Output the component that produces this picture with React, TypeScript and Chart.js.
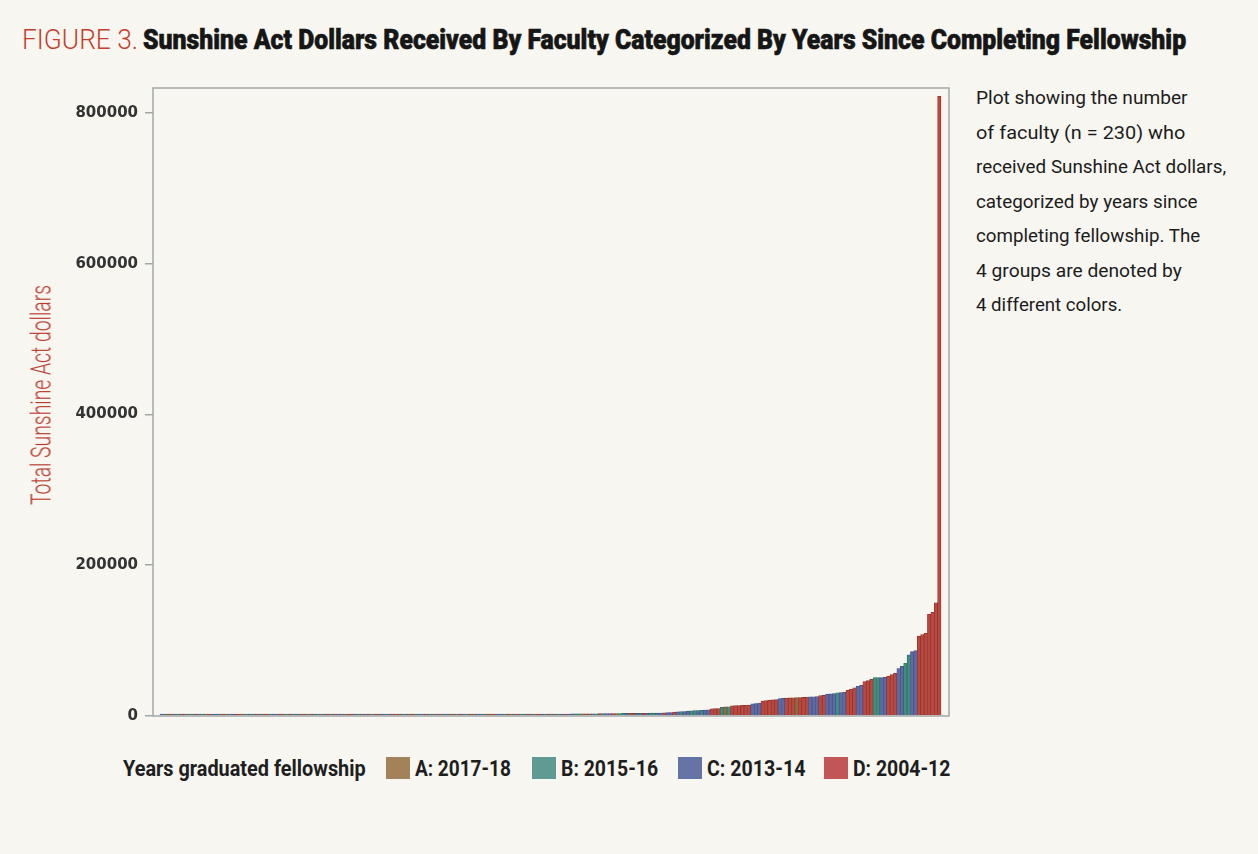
import React, { useEffect, useLayoutEffect, useRef, useState } from "react";
import { Chart, registerables } from "chart.js";
Chart.register(...registerables);

const BG = "#f7f6f0";

// Total Sunshine Act dollars per faculty member (n = 230), sorted ascending
const dollars: number[] = [
  15, 25, 40, 50, 60, 75, 90, 100, 110, 125,
  140, 150, 160, 175, 190, 200, 210, 225, 240, 250,
  265, 280, 300, 310, 325, 340, 350, 365, 380, 400,
  410, 425, 440, 450, 470, 490, 500, 515, 530, 550,
  560, 575, 590, 600, 620, 640, 650, 670, 690, 700,
  720, 740, 750, 770, 790, 800, 820, 840, 860, 880,
  900, 920, 940, 960, 980, 1000, 1020, 1040, 1060, 1080,
  1100, 1120, 1150, 1170, 1200, 1220, 1250, 1270, 1300, 1320,
  1350, 1380, 1400, 1430, 1460, 1490, 1500, 1530, 1560, 1600,
  1620, 1650, 1680, 1700, 1740, 1770, 1800, 1830, 1860, 1900,
  1930, 1960, 2000, 2030, 2070, 2100, 2140, 2180, 2200, 2250,
  2290, 2330, 2370, 2400, 2450, 2490, 2530, 2570, 2600, 2650,
  2700, 2740, 2780, 2820, 2860, 2900, 2950, 3000, 3040, 3080,
  3120, 3160, 3200, 3250, 3300, 3340, 3380, 3420, 3470, 3500,
  3550, 3600, 3650, 3700, 3750, 3800, 3900,
  4000, 4200, 4400, 4500,
  5200, 5400, 5700, 6000,
  6600, 6900, 7100, 7300, 7600, 7900, 8200,
  9400, 9700, 10000,
  11500, 12000, 12300,
  13500, 13700, 13900, 14100, 14300, 14500,
  16000, 16600, 17000,
  19700, 20300,
  21000, 21400, 21700,
  23000, 23300,
  23700, 24000, 24200,
  24400,
  24500, 24700, 24900,
  25300, 25500, 25700,
  27000, 27500,
  28800, 29300, 29600,
  30800,
  31000, 31300,
  34000, 35500, 37500,
  39200, 40600,
  45500, 47000, 48700,
  50800, 51000,
  51000, 51300,
  53000, 55000, 56600,
  63000, 66000,
  70000, 81000,
  85300, 86700,
  106000, 108000, 109700,
  135000, 137500,
  150000,
  822000,
];

// Fellowship group of each faculty member, same order as dollars
const groupCodes: string[] = (
  "CBDACBDCAB" + "DCBADCCBDA" + "BCDDABCBDC" + "ADBCCDABDB" + "CADBDCBACD" +
  "BDCABDDCBA" + "CDBDACBCDA" + "DBCADBCCDB" + "ACDBCADBDC" + "BDACCBDADC" +
  "CBDACDBBDC" + "ADCBDCABCD" + "CCBBADACBD" + "BCCDABBCAD" + "CBDCBBC" +
  "CDCC" + "DCBC" + "CBBCBCC" + "DDD" + "BAB" + "DDDDDD" + "CCC" + "DD" + "DDD" +
  "CC" + "DDD" + "A" + "DDD" + "CCC" + "DD" + "CCC" + "B" + "CC" + "DDD" + "CC" +
  "DDD" + "BB" + "CC" + "DDD" + "CC" + "BB" + "CC" + "DDD" + "DD" + "D" + "D"
).split("");

const groupKeys = ["A", "B", "C", "D"];
const groupLabels = ["A: 2017-18", "B: 2015-16", "C: 2013-14", "D: 2004-12"];
const legendColors = ["#a3825a", "#5f9b92", "#6673a5", "#c25656"];
const barColors = ["#8e6d43", "#3f8e7e", "#5e6aa3", "#b9483f"];
const barEdges = ["#6a4e2c", "#2d6e60", "#434f86", "#8f302b"];

const yTicks = [0, 200000, 400000, 600000, 800000];
const yMax = 833000;

const titleLead = "FIGURE 3.";
const titleMain = "Sunshine Act Dollars Received By Faculty Categorized By Years Since Completing Fellowship";
const yTitle = "Total Sunshine Act dollars";
const legendTitle = "Years graduated fellowship";
const sideLines = [
  "Plot showing the number",
  "of faculty (n = 230) who",
  "received Sunshine Act dollars,",
  "categorized by years since",
  "completing fellowship. The",
  "4 groups are denoted by",
  "4 different colors.",
];
const sideWidths = [211, 209, 250, 222, 224, 206, 146];

type FitProps = {
  text: string;
  left: number;
  top: number;
  width: number;
  size: number;
  weight?: number;
  family?: string;
  color?: string;
  rotate?: boolean;
  stroke?: string;
};

function FitText({ text, left, top, width, size, weight = 400, family = "Roboto", color = "#1c1c1c", rotate = false, stroke }: FitProps) {
  const ref = useRef<HTMLSpanElement>(null);
  const [sx, setSx] = useState(1);
  useLayoutEffect(() => {
    const measure = () => {
      const el = ref.current;
      if (el && el.offsetWidth) setSx(width / el.offsetWidth);
    };
    measure();
    if ((document as any).fonts && (document as any).fonts.ready) {
      (document as any).fonts.ready.then(measure);
    }
  }, [text, width]);
  const transform = rotate
    ? `translate(-50%, -50%) rotate(-90deg) scaleX(${sx})`
    : `scaleX(${sx})`;
  return (
    <span
      ref={ref}
      style={{
        position: "absolute",
        left,
        top,
        whiteSpace: "nowrap",
        fontFamily: family,
        fontSize: size,
        fontWeight: weight,
        color,
        lineHeight: 1,
        transform,
        transformOrigin: rotate ? "50% 50%" : "left top",
        WebkitTextStroke: stroke,
      } as any}
    >
      {text}
    </span>
  );
}

export default function App() {
  const canvasRef = useRef<HTMLCanvasElement>(null);

  useEffect(() => {
    if (!canvasRef.current) return;
    const idx = (g: string) => groupKeys.indexOf(g);
    const framePlugin = {
      id: "frame",
      afterDraw(chart: any) {
        const { ctx, chartArea } = chart;
        ctx.save();
        ctx.strokeStyle = "#a2a8a8";
        ctx.lineWidth = 1.5;
        ctx.strokeRect(chartArea.left, chartArea.top, chartArea.right - chartArea.left, chartArea.bottom - chartArea.top);
        ctx.restore();
      },
    };
    const chart = new Chart(canvasRef.current, {
      type: "bar",
      data: {
        datasets: [
          {
            data: dollars.map((v, i) => ({ x: i, y: v })) as any,
            backgroundColor: groupCodes.map((g) => barColors[idx(g)]),
            borderColor: groupCodes.map((g) => barEdges[idx(g)]),
            borderWidth: 0.7,
            barPercentage: 1,
            categoryPercentage: 1,
            minBarLength: 2,
          },
        ],
      },
      options: {
        animation: false,
        responsive: true,
        maintainAspectRatio: false,
        layout: { padding: { left: 73, right: 11, top: 8, bottom: 14 } },
        plugins: { legend: { display: false }, tooltip: { enabled: false } },
        scales: {
          x: {
            type: "linear",
            min: -2.55,
            max: 231.85,
            display: false,
            offset: false,
          },
          y: {
            min: 0,
            max: yMax,
            afterFit: (s: any) => {
              s.width = 80;
              s.paddingTop = 0;
              s.paddingBottom = 0;
            },
            afterBuildTicks: (s: any) => {
              s.ticks = yTicks.map((v) => ({ value: v }));
            },
            ticks: {
              color: "#333333",
              padding: 7,
              font: { family: "DejaVu Sans", weight: "bold", size: 15 },
              callback: (v: any) => String(v),
            },
            grid: {
              drawOnChartArea: false,
              drawTicks: true,
              tickLength: 8,
              color: "#a2a8a8",
              lineWidth: 1.5,
            },
            border: { display: false },
          },
        },
      } as any,
      plugins: [framePlugin],
    });
    return () => chart.destroy();
  }, []);

  const boxLefts = [386, 532, 678, 824];
  const textLefts = [415, 561, 707, 853];
  const textWidths = [96, 97, 98, 97];

  return (
    <div
      style={{
        position: "absolute",
        left: 0,
        top: 0,
        width: 1258,
        height: 854,
        background: BG,
        overflow: "hidden",
      }}
    >
      <FitText text={titleLead} left={22} top={26.5} width={116} size={27} weight={300} color="#c33e2c" />
      <FitText text={titleMain} left={143} top={26.5} width={1043} size={27} weight={900} color="#161616" stroke="0.6px #161616" />

      <div style={{ position: "absolute", left: 0, top: 80, width: 960, height: 650 }}>
        <canvas ref={canvasRef} />
      </div>

      <FitText text={yTitle} left={42} top={395} width={220} size={27} weight={300} color="#b8372a" rotate />

      {sideLines.map((line, i) => (
        <FitText key={i} text={line} left={976} top={89.4 + i * 34.5} width={sideWidths[i]} size={18} weight={400} color="#1c1c1c" />
      ))}

      <FitText text={legendTitle} left={123} top={757.5} width={243} size={22} weight={700} color="#1e1e1e" />
      {groupLabels.map((lab, i) => (
        <React.Fragment key={lab}>
          <div
            style={{
              position: "absolute",
              left: boxLefts[i],
              top: 757,
              width: 24,
              height: 22,
              background: legendColors[i],
            }}
          />
          <FitText text={lab} left={textLefts[i]} top={757.5} width={textWidths[i]} size={22} weight={700} color="#1e1e1e" />
        </React.Fragment>
      ))}
    </div>
  );
}
